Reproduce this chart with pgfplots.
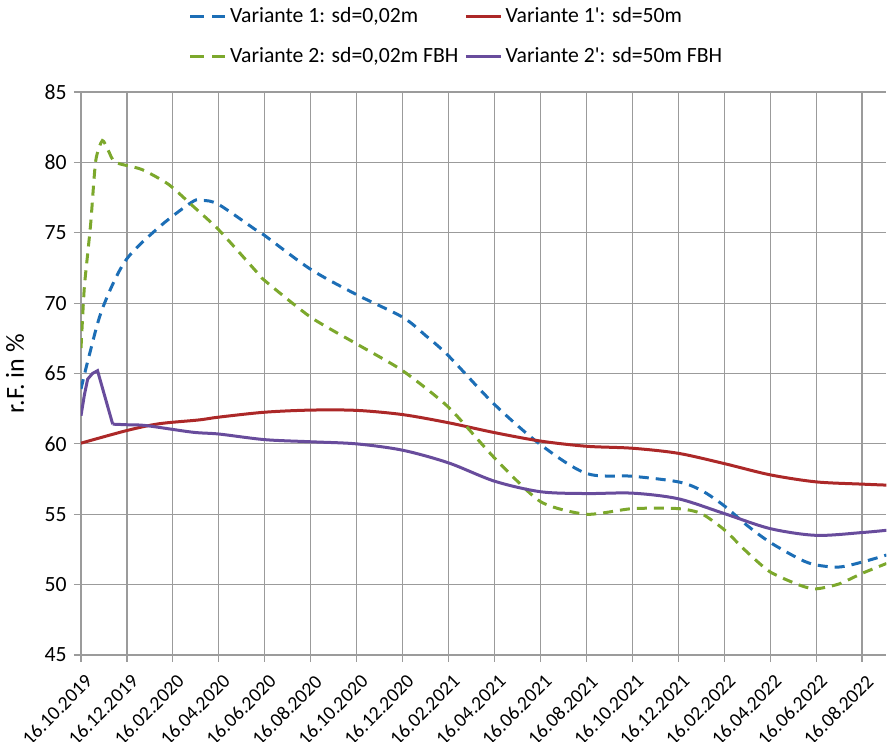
\documentclass[border=0pt]{standalone}
\usepackage{fontspec}
\setmainfont{Carlito}
\usepackage{pgfplots}
\pgfplotsset{compat=1.18}
\definecolor{cBlue}{RGB}{28,110,182}
\definecolor{cRed}{RGB}{172,40,40}
\definecolor{cGreen}{RGB}{124,168,44}
\definecolor{cPurple}{RGB}{104,76,156}
\definecolor{cGrid}{RGB}{155,155,155}
\begin{document}
\fontsize{10.85}{13}\selectfont
\begin{tikzpicture}
\begin{axis}[
 scale only axis, width=402.7pt, height=281.5pt,
 at={(0,0)}, anchor=south west,
 xmin=0, xmax=35.06, ymin=45, ymax=85,
 xtick={0,2,...,34},
 xticklabels={16.10.2019,16.12.2019,16.02.2020,16.04.2020,16.06.2020,16.08.2020,16.10.2020,16.12.2020,16.02.2021,16.04.2021,16.06.2021,16.08.2021,16.10.2021,16.12.2021,16.02.2022,16.04.2022,16.06.2022,16.08.2022},
 ytick={45,50,...,85},
 xticklabel style={yshift=-5.5pt, xshift=1.5pt, rotate=45, anchor=north east, inner sep=0pt, font=\fontsize{9.8}{11}\selectfont},
 yticklabel style={inner sep=3.5pt, font=\fontsize{10.85}{13}\selectfont},
 grid=major, major grid style={cGrid, line width=0.6pt},
 axis x line*=bottom, axis y line*=left,
 axis line style={cGrid, line width=0.6pt, -},
 tick style={cGrid, line width=0.6pt}, tick align=outside, major tick length=3.5pt,
 ylabel={r.F. in \%}, ylabel style={font=\fontsize{13}{15}\selectfont, yshift=3pt},
 /pgf/number format/assume math mode=true,
 legend columns=2,
 legend cell align=left,
 legend style={at={(axis description cs:0.126,1)}, anchor=south west, yshift=9pt,
   draw=none, fill=none, row sep=7pt, font=\fontsize{10.85}{13}\selectfont,
   /tikz/every even column/.append style={column sep=1pt}},
 every axis plot/.append style={line width=1.5pt},
]
\addplot[cBlue, dash pattern=on 5pt off 3.5pt, smooth, tension=0.5, legend image post style={dash pattern=on 6.5pt off 4.5pt}] coordinates {
(0,63.9) (0.36,66.3) (0.93,69.6) (1.93,73.0) (3.4,75.4) (4.85,77.2) (5.3,77.3) (6,77.0) (7.7,75.1) (8,74.8) (10,72.4) (12,70.6) (14,69.0) (15,67.7) (16,66.25) (18,62.8) (20,59.95) (22,57.9) (24,57.7) (26,57.3) (27,56.7) (28,55.6) (29,54.2) (30,53.0) (31.3,51.8) (32,51.4) (33,51.25) (34,51.6) (35.06,52.1)};
\addlegendentry{Variante 1: sd=0,02m}
\addplot[cRed, smooth] coordinates {
(0,60.05) (2,60.95) (3.4,61.43) (5.13,61.7) (6,61.9) (8,62.25) (10,62.4) (12,62.38) (14,62.08) (16,61.5) (18,60.8) (20,60.2) (22,59.83) (24,59.69) (26,59.33) (28,58.6) (30,57.8) (32,57.3) (34,57.14) (35.06,57.07)};
\addlegendentry{Variante 1\textquotesingle: sd=50m}
\addplot[cGreen, dash pattern=on 5pt off 3.5pt, smooth, tension=0.4, legend image post style={dash pattern=on 6.5pt off 4.5pt}] coordinates {
(0,66.8) (0.14,71.0) (0.29,73.5) (0.43,75.8) (0.64,80.1) (0.93,81.55) (1.2,80.8) (1.5,80.0) (2.64,79.5) (3.8,78.45) (4.8,77.0) (6,75.2) (7.6,72.3) (8,71.6) (10,69.0) (12,67.1) (14,65.2) (16,62.6) (18,59.0) (20,55.9) (22,55.0) (24,55.4) (26,55.4) (27,55.05) (28,53.9) (29,52.3) (30,50.9) (31.3,49.95) (32,49.7) (33,50.05) (34,50.8) (35.06,51.5)};
\addlegendentry{Variante 2: sd=0,02m FBH}
\addplot[cPurple, forget plot] coordinates {
(0,62.0) (0.15,63.5) (0.29,64.6) (0.5,65.0) (0.72,65.2) (1.38,61.4)};
\addplot[cPurple, smooth, tension=0.5] coordinates {
(1.38,61.4) (1.96,61.36) (2.83,61.3) (4.85,60.83) (6,60.7) (8,60.3) (10,60.15) (12,60.0) (14,59.55) (16,58.65) (18,57.35) (20,56.6) (22,56.47) (24,56.5) (26,56.1) (28,55.05) (30,53.98) (32,53.5) (34,53.7) (35.06,53.86)};
\addlegendentry{Variante 2\textquotesingle: sd=50m FBH}
\end{axis}
\pgfresetboundingbox
\path (-40.5pt,-43.5pt) rectangle (405.5pt,327.5pt);
\end{tikzpicture}
\end{document}
